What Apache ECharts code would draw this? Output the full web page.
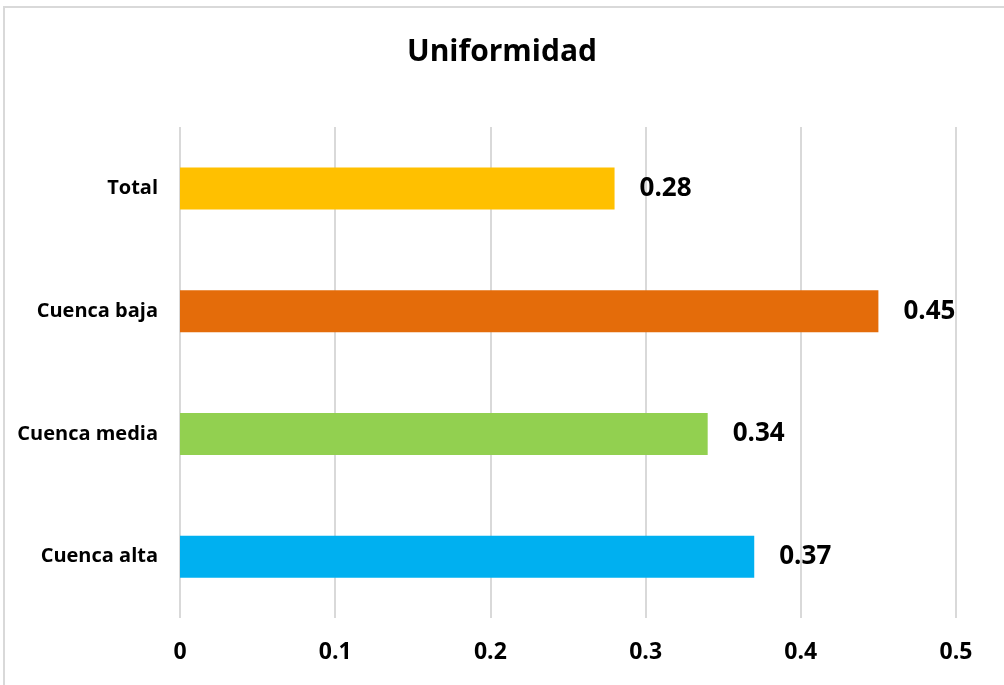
<!DOCTYPE html>
<html>
<head>
<meta charset="utf-8">
<title>Uniformidad</title>
<script src="https://cdn.jsdelivr.net/npm/echarts@6/dist/echarts.min.js"></script>
<style>
  html, body { margin: 0; padding: 0; background: #ffffff; }
  #chart { width: 1004px; height: 685px; }
</style>
</head>
<body>
<div id="chart"></div>
<script>
// Categories listed bottom to top along the vertical axis
const categories = ['Cuenca alta', 'Cuenca media', 'Cuenca baja', 'Total'];
const uniformity = [0.37, 0.34, 0.45, 0.28];
const barColors = ['#00B0F0', '#92D050', '#E46C0A', '#FFC000'];
const xTicks = [0, 0.1, 0.2, 0.3, 0.4, 0.5];

const FONT = '"Open Sans", "Noto Sans", sans-serif';

const chart = echarts.init(document.getElementById('chart'), null, { renderer: 'canvas' });

chart.setOption({
  backgroundColor: '#ffffff',
  animation: false,
  graphic: [{
    type: 'rect',
    silent: true,
    shape: { x: 4, y: 7, width: 1020, height: 700 },
    style: { fill: 'none', stroke: '#d9d9d9', lineWidth: 2 }
  }],
  title: {
    text: 'Uniformidad',
    left: 'center',
    top: 32,
    textStyle: { fontFamily: FONT, fontWeight: 'bold', fontSize: 30, color: '#000000' }
  },
  grid: { left: 180, right: 48, top: 127, bottom: 67, containLabel: false },
  xAxis: {
    type: 'value',
    min: xTicks[0],
    max: xTicks[xTicks.length - 1],
    interval: 0.1,
    axisLine: { show: false },
    axisTick: { show: false },
    splitLine: { show: true, lineStyle: { color: '#d9d9d9', width: 2 } },
    axisLabel: {
      margin: 23,
      fontFamily: FONT, fontWeight: 'bold', fontSize: 23, color: '#000000',
      formatter: v => String(Math.round(v * 10) / 10)
    }
  },
  yAxis: {
    type: 'category',
    data: categories,
    axisLine: { show: false },
    axisTick: { show: false },
    splitLine: { show: false },
    axisLabel: {
      margin: 22,
      fontFamily: FONT, fontWeight: 'bold', fontSize: 20, color: '#000000'
    }
  },
  series: [{
    type: 'bar',
    barWidth: 42,
    data: uniformity.map((v, i) => ({ value: v, itemStyle: { color: barColors[i] } })),
    label: {
      show: true,
      position: 'right',
      distance: 25,
      fontFamily: FONT, fontWeight: 'bold', fontSize: 26, color: '#000000',
      formatter: p => p.value.toFixed(2)
    }
  }]
});
</script>
</body>
</html>
